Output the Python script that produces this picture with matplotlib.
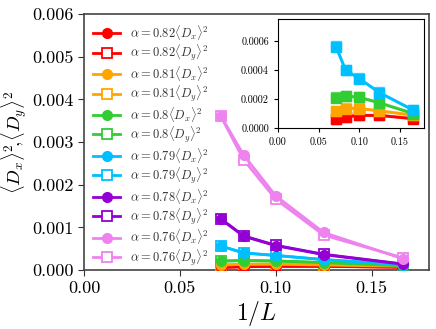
import matplotlib
matplotlib.use("Agg")
import matplotlib.pyplot as plt
import numpy as np

plt.rcParams['mathtext.fontset'] = 'cm'
plt.rcParams['font.family'] = 'serif'
plt.rcParams['font.serif'] = ['cmr10', 'DejaVu Serif']
plt.rcParams['axes.formatter.use_mathtext'] = True

invL = [1/14, 1/12, 1/10, 1/8, 1/6]
alphas = ['0.82', '0.81', '0.8', '0.79', '0.78', '0.76']
colors = ['red', 'orange', 'limegreen', 'deepskyblue', 'darkviolet', 'violet']

Dx = {
    '0.82': [0.000060, 0.000076, 0.000086, 0.000086, 0.000063],
    '0.81': [0.000114, 0.000133, 0.000134, 0.000117, 0.000088],
    '0.8':  [0.000208, 0.000219, 0.000211, 0.000172, 0.000099],
    '0.79': [0.000560, 0.000398, 0.000340, 0.000243, 0.000122],
    '0.78': [0.00119, 0.00079, 0.00057, 0.00036, 0.000133],
    '0.76': [0.00361, 0.00269, 0.00174, 0.00088, 0.00026],
}
Dy = {
    '0.82': [0.000062, 0.000078, 0.000088, 0.000088, 0.000066],
    '0.81': [0.000118, 0.000137, 0.000136, 0.000119, 0.000090],
    '0.8':  [0.000212, 0.000222, 0.000213, 0.000175, 0.000102],
    '0.79': [0.000562, 0.000401, 0.000342, 0.000245, 0.000125],
    '0.78': [0.00120, 0.00080, 0.00058, 0.00037, 0.000140],
    '0.76': [0.00360, 0.00258, 0.00166, 0.00082, 0.00028],
}
inset_alphas = ['0.82', '0.81', '0.8', '0.79']

fig = plt.figure(figsize=(4.36, 3.29), dpi=100)
ax = fig.add_axes([0.1927, 0.1793, 0.7913, 0.7781])

handles = []
labels = []
for a, c in zip(alphas, colors):
    hx, = ax.plot(invL, Dx[a], '-o', color=c, lw=2, ms=7, mfc=c, mec=c, zorder=4)
    hy, = ax.plot(invL, Dy[a], '-s', color=c, lw=2, ms=7, mfc='white', mec=c,
                  mew=1.3, zorder=3)
    handles += [hx, hy]
    labels += [r'$\alpha = %s\langle D_x\rangle^2$' % a,
               r'$\alpha = %s\langle D_y\rangle^2$' % a]

ax.set_xlim(0, 0.18)
ax.set_ylim(0, 0.006)
ax.set_xticks([0, 0.05, 0.10, 0.15])
ax.set_xticklabels(['0.00', '0.05', '0.10', '0.15'])
ax.set_yticks([0, 0.001, 0.002, 0.003, 0.004, 0.005, 0.006])
ax.set_yticklabels(['0.000', '0.001', '0.002', '0.003', '0.004', '0.005', '0.006'])
ax.tick_params(labelsize=13, direction='out', length=4, color='#333333')
for s in ax.spines.values():
    s.set_color('#444444')
    s.set_linewidth(1.2)
ax.set_xlabel(r'$1/L$', fontsize=17, labelpad=2)
ax.set_ylabel(r'$\langle D_x\rangle^2\!,\!\langle D_y\rangle^2$', fontsize=13.5, labelpad=2)

leg = ax.legend(handles, labels, loc='upper left', frameon=False, fontsize=9,
                labelspacing=0.05, handlelength=2.2, borderaxespad=0.3,
                handletextpad=0.8)
for t in leg.get_texts():
    t.set_color('#333333')

ins = fig.add_axes([0.6376, 0.611, 0.335, 0.331])
for a, c in zip(alphas, colors):
    if a not in inset_alphas:
        continue
    ins.plot(invL, Dx[a], '-s', color=c, lw=2, ms=7, mfc=c, mec=c)
    ins.plot(invL, Dy[a], '-s', color=c, lw=2, ms=7, mfc=c, mec=c, alpha=0.6)
ins.set_xlim(0, 0.18)
ins.set_ylim(0, 0.00075)
ins.set_xticks([0, 0.05, 0.10, 0.15])
ins.set_xticklabels(['0.00', '0.05', '0.10', '0.15'])
ins.set_yticks([0, 0.0002, 0.0004, 0.0006])
ins.set_yticklabels(['0.0000', '0.0002', '0.0004', '0.0006'])
ins.tick_params(labelsize=7.3, direction='out', length=3)

fig.savefig('out.png', dpi=100)
